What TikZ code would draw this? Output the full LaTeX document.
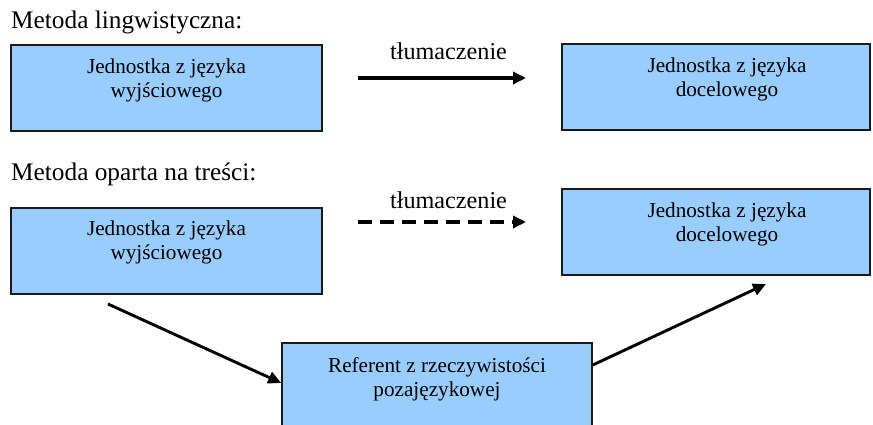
\documentclass[tikz,border=0pt]{standalone}
\usepackage{fontspec}
\setmainfont{Liberation Serif}
\usetikzlibrary{arrows.meta}
\definecolor{boxblue}{HTML}{99CCFF}
\definecolor{boxline}{HTML}{1A1A1A}
\begin{document}
\begin{tikzpicture}[x=1pt,y=-1pt,
  box/.style={draw=boxline, line width=1.6pt, fill=boxblue, rectangle, inner sep=0pt},
  boxtext/.style={font=\fontsize{21.2}{24}\selectfont, align=center, inner sep=0pt},
  heading/.style={font=\fontsize{25.3}{28}\selectfont, anchor=base west, inner sep=0pt},
  arrlabel/.style={font=\fontsize{24.2}{28}\selectfont, anchor=base, inner sep=0pt},
  conn/.style={line width=3.3pt, -{Triangle[length=13pt,width=12pt]}},
  dashconn/.style={conn, dash pattern=on 14pt off 8pt},
  diag/.style={line width=2.9pt, -{Triangle[length=13pt,width=12pt]}},
]
\useasboundingbox (0,0) rectangle (873,425);

% headings
\node[heading] (h1) at (11,29) {Metoda lingwistyczna:};
\node[heading] (h2) at (11,180) {Metoda oparta na treści:};

% boxes
\node[box, minimum width=311pt, minimum height=86pt] (b1) at (166.5,88) {};
\node[box, minimum width=308pt, minimum height=86pt] (b2) at (716,87) {};
\node[box, minimum width=311pt, minimum height=86pt] (b3) at (166.5,251) {};
\node[box, minimum width=308pt, minimum height=86pt] (b4) at (716,232) {};
\node[box, minimum width=310pt, minimum height=86pt] (b5) at (437,386) {};

% box texts
\node[boxtext] (t1) at ([yshift=-36pt]b1.north) {Jednostka z języka\\wyjściowego};
\node[boxtext] (t2) at ([xshift=11pt,yshift=-36pt]b2.north) {Jednostka z języka\\docelowego};
\node[boxtext] (t3) at ([yshift=-35pt]b3.north) {Jednostka z języka\\wyjściowego};
\node[boxtext] (t4) at ([xshift=11pt,yshift=-36pt]b4.north) {Jednostka z języka\\docelowego};
\node[boxtext] (t5) at ([yshift=-37pt]b5.north) {Referent z rzeczywistości\\pozajęzykowej};

% connector end points
\coordinate (a1s) at (358,78);
\coordinate (a1e) at (526,78);
\coordinate (a2s) at (358,222);
\coordinate (a2e) at (526,222);
\coordinate (a3s) at (108,304);
\coordinate (a4e) at (766,284);

% connectors
\draw[conn] (a1s) -- (a1e);
\node[arrlabel] (l1) at (448.5,60) {tłumaczenie};
\draw[dashconn] (a2s) -- (a2e);
\node[arrlabel] (l2) at (448.5,208) {tłumaczenie};
\draw[diag] (a3s) -- ([yshift=3pt]b5.west);
\draw[diag] ([yshift=21pt]b5.east) -- (a4e);
\end{tikzpicture}
\end{document}
